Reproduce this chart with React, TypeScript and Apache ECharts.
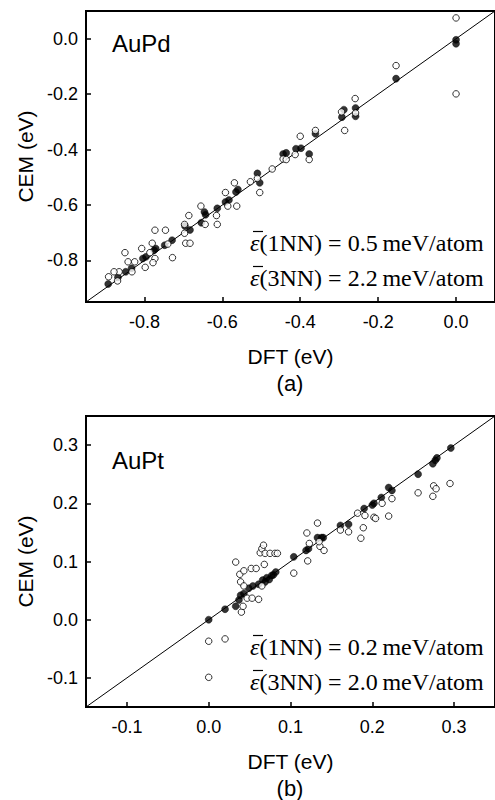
import React, { useEffect, useRef } from "react";
import * as echarts from "echarts";

// ---------- data ----------
// AuPd panel (a): [DFT, CEM] in eV
const auPdFilled: number[][] = [
  [-0.893, -0.885], [-0.868, -0.861], [-0.848, -0.841], [-0.833, -0.828],
  [-0.804, -0.793], [-0.796, -0.787], [-0.775, -0.763], [-0.771, -0.757],
  [-0.748, -0.745], [-0.729, -0.727], [-0.696, -0.676], [-0.683, -0.69],
  [-0.654, -0.664], [-0.646, -0.625], [-0.643, -0.635], [-0.613, -0.612],
  [-0.592, -0.589], [-0.583, -0.582], [-0.565, -0.553], [-0.56, -0.544],
  [-0.51, -0.486], [-0.504, -0.52], [-0.444, -0.416], [-0.436, -0.412],
  [-0.411, -0.397], [-0.398, -0.395], [-0.377, -0.416], [-0.361, -0.343],
  [-0.293, -0.283], [-0.288, -0.256], [-0.258, -0.25], [-0.258, -0.28],
  [-0.154, -0.144], [0.0, -0.004], [0.0, -0.018],
];
const auPdOpen: number[][] = [
  [0.0, 0.075], [0.0, -0.199], [-0.154, -0.097], [-0.259, -0.216],
  [-0.258, -0.268], [-0.294, -0.264], [-0.286, -0.331], [-0.361, -0.331],
  [-0.4, -0.352], [-0.413, -0.418], [-0.377, -0.436], [-0.444, -0.434],
  [-0.436, -0.436], [-0.472, -0.47], [-0.51, -0.504], [-0.528, -0.516],
  [-0.569, -0.52], [-0.504, -0.555], [-0.592, -0.555], [-0.586, -0.604],
  [-0.563, -0.604], [-0.655, -0.604], [-0.615, -0.638], [-0.686, -0.638],
  [-0.613, -0.67], [-0.644, -0.67], [-0.697, -0.67], [-0.773, -0.691],
  [-0.746, -0.691], [-0.697, -0.702], [-0.694, -0.738], [-0.683, -0.738],
  [-0.78, -0.738], [-0.74, -0.741], [-0.728, -0.79], [-0.807, -0.757],
  [-0.786, -0.772], [-0.85, -0.772], [-0.773, -0.793], [-0.842, -0.805],
  [-0.825, -0.805], [-0.798, -0.825], [-0.778, -0.808], [-0.865, -0.841],
  [-0.878, -0.841], [-0.832, -0.841], [-0.892, -0.859], [-0.869, -0.874],
];
// AuPt panel (b)
const auPtFilled: number[][] = [
  [0.0, 0.0], [0.02, 0.018], [0.033, 0.023], [0.037, 0.034], [0.039, 0.042],
  [0.043, 0.045], [0.049, 0.054], [0.054, 0.058], [0.061, 0.061], [0.066, 0.068],
  [0.069, 0.065], [0.071, 0.072], [0.074, 0.069], [0.077, 0.076], [0.082, 0.082],
  [0.079, 0.077], [0.104, 0.108], [0.119, 0.119], [0.122, 0.122], [0.133, 0.141],
  [0.138, 0.141], [0.14, 0.141], [0.161, 0.162], [0.171, 0.164], [0.19, 0.191],
  [0.2, 0.197], [0.202, 0.2], [0.211, 0.21], [0.22, 0.227], [0.224, 0.222],
  [0.256, 0.25], [0.274, 0.268], [0.277, 0.274], [0.279, 0.278], [0.296, 0.295],
];
const auPtOpen: number[][] = [
  [0.0, -0.037], [0.02, -0.033], [0.0, -0.099], [0.04, 0.013], [0.042, 0.023],
  [0.047, 0.037], [0.053, 0.037], [0.061, 0.035], [0.039, 0.065], [0.043, 0.058],
  [0.065, 0.058], [0.038, 0.078], [0.043, 0.084], [0.052, 0.088], [0.058, 0.088],
  [0.068, 0.095], [0.033, 0.099], [0.063, 0.115], [0.065, 0.122], [0.067, 0.128],
  [0.069, 0.114], [0.075, 0.114], [0.081, 0.114], [0.084, 0.114], [0.104, 0.08],
  [0.121, 0.101], [0.12, 0.149], [0.123, 0.131], [0.133, 0.166], [0.136, 0.126],
  [0.141, 0.119], [0.135, 0.134], [0.161, 0.154], [0.171, 0.151], [0.182, 0.183],
  [0.186, 0.14], [0.189, 0.158], [0.191, 0.179], [0.202, 0.176], [0.204, 0.174],
  [0.212, 0.2], [0.22, 0.178], [0.224, 0.208], [0.256, 0.218], [0.274, 0.212],
  [0.275, 0.23], [0.278, 0.225], [0.295, 0.234],
];
// axis ranges and tick labels
const rangeA = [-0.95, 0.1];
const rangeB = [-0.15, 0.35];
const ticksA = [-0.8, -0.6, -0.4, -0.2, 0.0];
const ticksB = [-0.1, 0.0, 0.1, 0.2, 0.3];
const errA = ["0.5", "2.2"];
const errB = ["0.2", "2.0"];

const SANS = "'Liberation Sans', Arial, sans-serif";
const SERIF = "'Liberation Serif', 'Times New Roman', serif";

function axis(gridIndex: number, range: number[], ticks: number[], name: string, isX: boolean) {
  return {
    gridIndex,
    type: "value",
    min: range[0],
    max: range[1],
    name,
    nameLocation: "middle",
    nameGap: isX ? 44 : 50,
    nameTextStyle: { fontFamily: SANS, fontSize: 21, color: "#000" },
    axisLine: { show: true, onZero: false, lineStyle: { color: "#000", width: 2 } },
    axisTick: {
      show: true,
      inside: true,
      length: 5,
      customValues: ticks,
      lineStyle: { color: "#000", width: 1.5 },
    },
    axisLabel: {
      customValues: ticks,
      formatter: (v: number) => v.toFixed(1),
      fontFamily: SANS,
      fontSize: 18,
      color: "#000",
      margin: isX ? 11 : 8,
    },
    splitLine: { show: false },
  };
}

const ERR_X = 250;
function errText(y: number, label: string, val: string) {
  return {
    type: "group",
    children: [
      {
        type: "text",
        x: ERR_X,
        y,
        style: {
          text: `{e|ε}(${label}) = ${val}\u2009meV/atom`,
          align: "left",
          verticalAlign: "middle",
          fontFamily: SERIF,
          fontSize: 24,
          fill: "#000",
          rich: {
            e: { fontFamily: SERIF, fontStyle: "italic", fontSize: 24, fill: "#000" },
          },
        },
      },
      {
        type: "line",
        shape: { x1: ERR_X + 3, y1: y - 11.5, x2: ERR_X + 13, y2: y - 11.5 },
        style: { stroke: "#000", lineWidth: 1.2 },
      },
    ],
  };
}

export default function App() {
  const ref = useRef<HTMLDivElement>(null);
  useEffect(() => {
    if (!ref.current) return;
    const chart = echarts.init(ref.current, null, { renderer: "svg" });
    const scatterFilled = (data: number[][], i: number) => ({
      type: "scatter",
      xAxisIndex: i,
      yAxisIndex: i,
      data,
      symbol: "circle",
      symbolSize: 7,
      itemStyle: { color: "#000", borderColor: "#000", borderWidth: 0.5 },
      silent: true,
      z: 3,
    });
    const scatterOpen = (data: number[][], i: number) => ({
      type: "scatter",
      xAxisIndex: i,
      yAxisIndex: i,
      data,
      symbol: "circle",
      symbolSize: 6.5,
      itemStyle: { color: "#fff", borderColor: "#000", borderWidth: 1 },
      silent: true,
      z: 4,
    });
    const diag = (range: number[], i: number) => ({
      type: "line",
      xAxisIndex: i,
      yAxisIndex: i,
      data: [
        [range[0], range[0]],
        [range[1], range[1]],
      ],
      symbol: "none",
      lineStyle: { color: "#000", width: 1 },
      silent: true,
      z: 2,
    });
    chart.setOption({
      animation: false,
      backgroundColor: "#fff",
      grid: [
        { left: 86, top: 11, width: 420, height: 291, show: true, borderColor: "#000", borderWidth: 2, backgroundColor: "transparent" },
        { left: 86, top: 416, width: 416.5, height: 291, show: true, borderColor: "#000", borderWidth: 2, backgroundColor: "transparent" },
      ],
      xAxis: [
        axis(0, rangeA, ticksA, "DFT (eV)", true),
        axis(1, rangeB, ticksB, "DFT (eV)", true),
      ],
      yAxis: [
        axis(0, rangeA, ticksA, "CEM (eV)", false),
        axis(1, rangeB, ticksB, "CEM (eV)", false),
      ],
      series: [
        diag(rangeA, 0),
        scatterFilled(auPdFilled, 0),
        scatterOpen(auPdOpen, 0),
        diag(rangeB, 1),
        scatterFilled(auPtFilled, 1),
        scatterOpen(auPtOpen, 1),
      ],
      graphic: [
        { type: "text", x: 112, y: 43, style: { text: "AuPd", fontFamily: SANS, fontSize: 24, fill: "#000", verticalAlign: "middle" } },
        { type: "text", x: 112, y: 460, style: { text: "AuPt", fontFamily: SANS, fontSize: 24, fill: "#000", verticalAlign: "middle" } },
        errText(243, "1NN", errA[0]),
        errText(278, "3NN", errA[1]),
        errText(647, "1NN", errB[0]),
        errText(682, "3NN", errB[1]),
        { type: "text", x: 290, y: 383, style: { text: "(a)", fontFamily: SANS, fontSize: 22, fill: "#000", align: "center", verticalAlign: "middle" } },
        { type: "text", x: 290, y: 788, style: { text: "(b)", fontFamily: SANS, fontSize: 22, fill: "#000", align: "center", verticalAlign: "middle" } },
      ],
    });
    return () => chart.dispose();
  }, []);
  return (
    <div
      ref={ref}
      style={{ position: "absolute", left: 0, top: 0, width: 495, height: 800, background: "#fff" }}
    />
  );
}
